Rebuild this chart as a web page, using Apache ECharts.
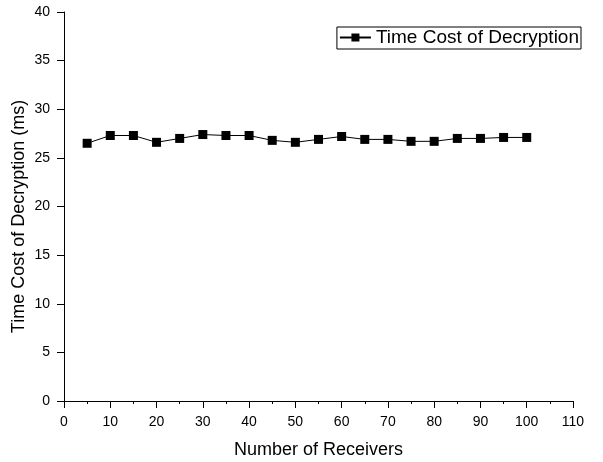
<!DOCTYPE html>
<html lang="en">
<head>
    <meta charset="UTF-8">
    <title>Time Cost of Decryption</title>
</head>
<body style="margin:0;background:#fff;">
    <div id="main" style="width:603px;height:462px;"></div>
    <script src="https://cdn.jsdelivr.net/npm/echarts@6/dist/echarts.min.js"></script>
    <script>
        var receivers = [5, 10, 15, 20, 25, 30, 35, 40, 45, 50, 55, 60, 65, 70, 75, 80, 85, 90, 95, 100];
        var decryptCost = [26.5, 27.3, 27.3, 26.6, 27.0, 27.4, 27.3, 27.3, 26.8, 26.6,
            26.9, 27.2, 26.9, 26.9, 26.7, 26.7, 27.0, 27.0, 27.1, 27.1];
        var seriesName = 'Time Cost of Decryption';

        var myChart = echarts.init(document.getElementById('main'));
        var font = 'Liberation Sans, Arial, sans-serif';

        var points = [];
        for (var i = 0; i < receivers.length; i++) {
            points.push([receivers[i], decryptCost[i]]);
        }

        var option = {
            animation: false,
            textStyle: { fontFamily: font, color: '#000' },
            grid: { left: 64, right: 30, top: 12, bottom: 61, outerBoundsMode: 'none' },
            legend: {
                data: [seriesName],
                right: 22,
                top: 27,
                itemWidth: 31,
                itemHeight: 10,
                itemGap: 4,
                padding: [1, 2, 2, 2],
                borderColor: '#000',
                borderWidth: 1,
                borderRadius: 0,
                textStyle: { fontSize: 19, color: '#000', fontFamily: font }
            },
            xAxis: {
                type: 'value',
                min: 0,
                max: 110,
                interval: 10,
                name: 'Number of Receivers',
                nameLocation: 'middle',
                nameGap: 40,
                nameMoveOverlap: false,
                nameTextStyle: { fontSize: 18, color: '#000' },
                axisLine: { lineStyle: { color: '#000', width: 1 } },
                axisTick: { length: 7, lineStyle: { color: '#000' } },
                minorTick: { show: true, splitNumber: 2, length: 3, lineStyle: { color: '#000' } },
                axisLabel: { fontSize: 14, color: '#000', margin: 14 },
                splitLine: { show: false }
            },
            yAxis: {
                type: 'value',
                min: 0,
                max: 40,
                interval: 5,
                name: 'Time Cost of Decryption (ms)',
                nameLocation: 'middle',
                nameGap: 36,
                nameMoveOverlap: false,
                nameTextStyle: { fontSize: 18, color: '#000', padding: [0, 20, 0, 0] },
                axisLine: { show: true, lineStyle: { color: '#000', width: 1 } },
                axisTick: { show: true, length: 7, lineStyle: { color: '#000' } },
                axisLabel: { fontSize: 14, color: '#000', margin: 14 },
                splitLine: { show: false }
            },
            series: [{
                name: seriesName,
                type: 'line',
                data: points,
                symbol: 'rect',
                symbolSize: 9,
                lineStyle: { color: '#000', width: 1 },
                itemStyle: { color: '#000' }
            }]
        };

        myChart.setOption(option);
    </script>
</body>
</html>
